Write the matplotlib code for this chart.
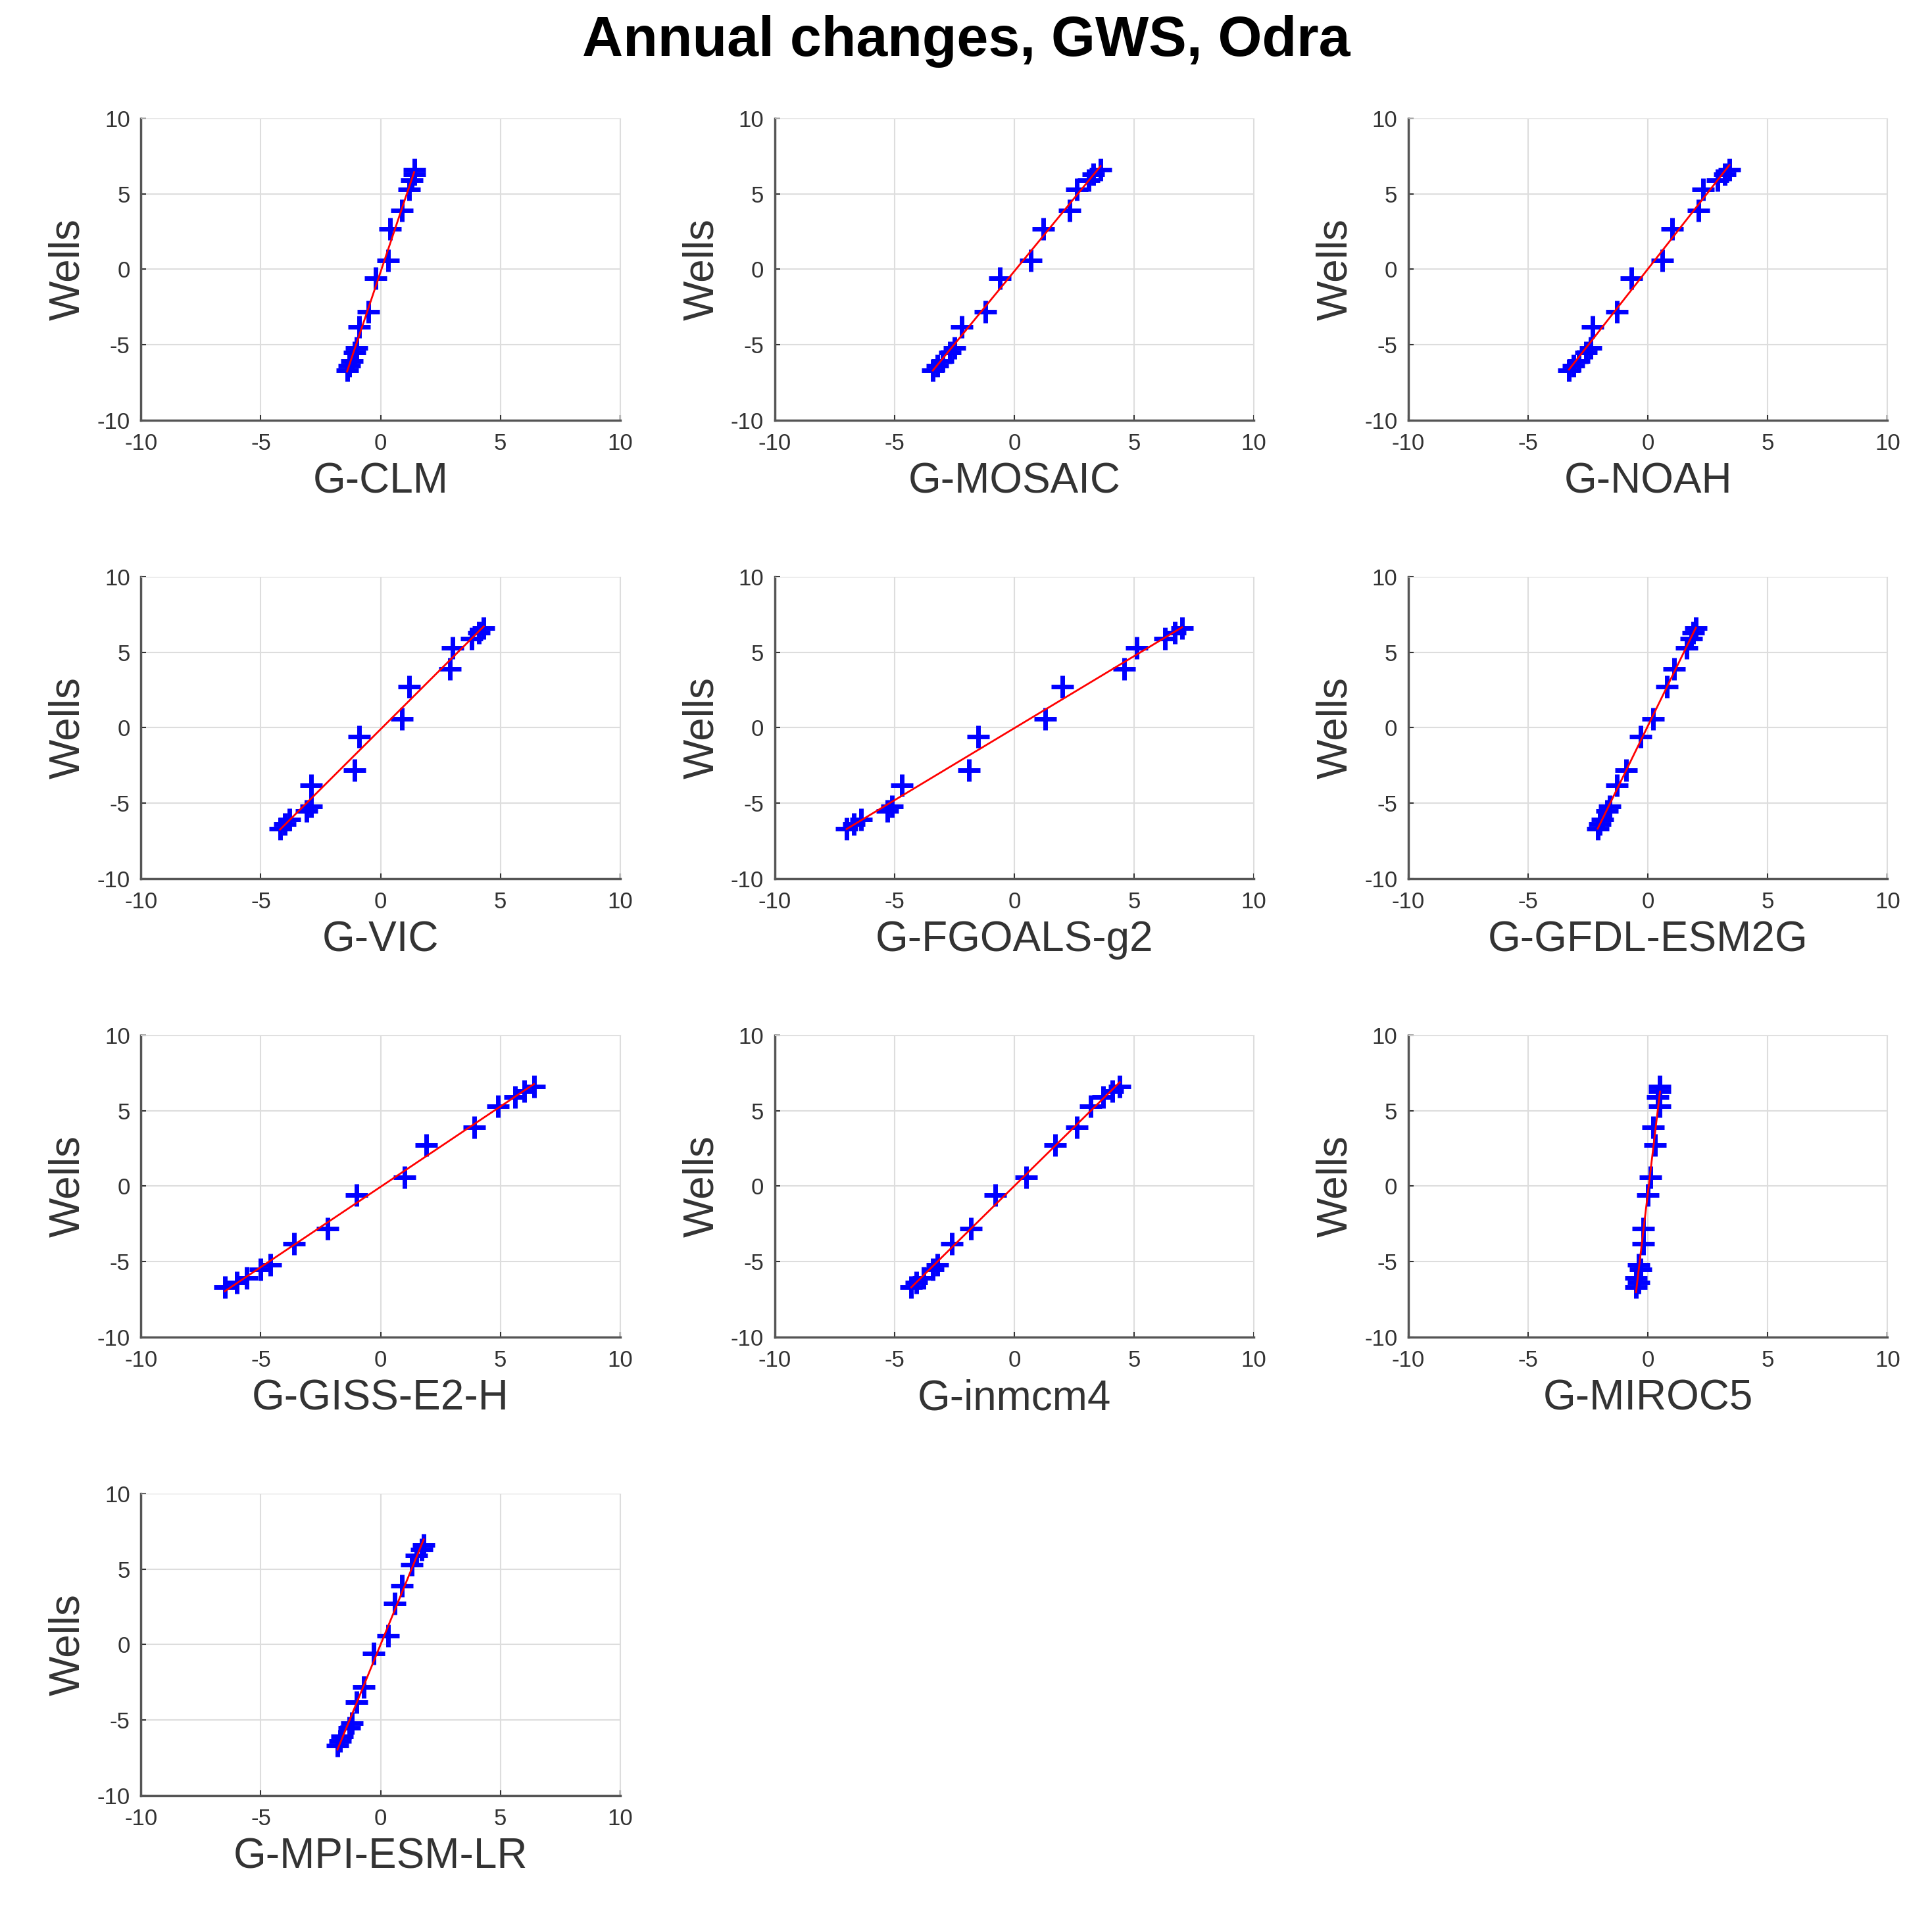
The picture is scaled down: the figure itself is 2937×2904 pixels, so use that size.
import numpy as np
import matplotlib.pyplot as plt

plt.rcParams["font.family"] = "Liberation Sans"
plt.rcParams["axes.unicode_minus"] = False

wells = [-6.7, -6.4, -6.1, -5.5, -5.2, -3.8, -2.8, -0.6, 0.6, 2.7, 3.9, 5.3, 5.9, 6.3, 6.6]

model_names = ["G-CLM", "G-MOSAIC", "G-NOAH", "G-VIC", "G-FGOALS-g2", "G-GFDL-ESM2G",
               "G-GISS-E2-H", "G-inmcm4", "G-MIROC5", "G-MPI-ESM-LR"]

clm = [-1.4, -1.3, -1.2, -1.1, -1.0, -0.9, -0.5, -0.2, 0.3, 0.4, 0.9, 1.2, 1.3, 1.4, 1.4]
mosaic = [-3.4, -3.2, -3.0, -2.7, -2.5, -2.2, -1.2, -0.6, 0.7, 1.2, 2.3, 2.6, 3.1, 3.3, 3.6]
noah = [-3.3, -3.1, -2.9, -2.6, -2.4, -2.3, -1.3, -0.7, 0.6, 1.0, 2.1, 2.3, 2.9, 3.2, 3.4]
vic = [-4.2, -4.0, -3.8, -3.1, -2.9, -2.9, -1.1, -0.9, 0.9, 1.2, 2.9, 3.0, 3.8, 4.1, 4.3]
fgoals = [-7.0, -6.7, -6.4, -5.3, -5.1, -4.7, -1.9, -1.5, 1.3, 2.0, 4.6, 5.1, 6.3, 6.7, 7.0]
gfdl = [-2.1, -2.0, -1.9, -1.7, -1.6, -1.3, -0.9, -0.3, 0.2, 0.8, 1.1, 1.6, 1.8, 1.9, 2.0]
giss = [-6.5, -6.0, -5.6, -5.0, -4.6, -3.6, -2.2, -1.0, 1.0, 1.9, 3.9, 4.9, 5.6, 6.0, 6.4]
inmcm4 = [-4.3, -4.1, -3.8, -3.4, -3.2, -2.6, -1.8, -0.8, 0.5, 1.7, 2.6, 3.2, 3.7, 4.1, 4.4]
miroc5 = [-0.5, -0.4, -0.5, -0.3, -0.4, -0.2, -0.2, 0.0, 0.1, 0.3, 0.2, 0.5, 0.4, 0.5, 0.5]
mpi = [-1.8, -1.7, -1.6, -1.3, -1.2, -1.0, -0.7, -0.3, 0.3, 0.6, 0.9, 1.3, 1.5, 1.7, 1.8]
model_vals = [clm, mosaic, noah, vic, fgoals, gfdl, giss, inmcm4, miroc5, mpi]

ticks = [-10, -5, 0, 5, 10]

fig = plt.figure(figsize=(29.37, 29.04), dpi=100)
fig.suptitle("Annual changes, GWS, Odra", fontsize=62, fontweight="bold", y=0.992)

lefts = [0.073, 0.401, 0.729]
tops = [0.938, 0.698, 0.458, 0.218]
w, h = 0.248, 0.158

for i, (name, xv) in enumerate(zip(model_names, model_vals)):
    r, c = divmod(i, 3)
    ax = fig.add_axes([lefts[c], tops[r] - h, w, h])
    x = np.array(xv)
    y = np.array(wells)
    ax.plot(x, y, "+", color="blue", ms=24, mew=5, zorder=3)
    p = np.polyfit(x, y, 1)
    xs = np.array([x.min(), x.max()])
    ax.plot(xs, np.polyval(p, xs), color="red", lw=2, zorder=4)
    ax.set_xlim(-10, 10)
    ax.set_ylim(-10, 10)
    ax.set_xticks(ticks)
    ax.set_yticks(ticks)
    ax.grid(True, color="#dddddd", lw=1.5)
    ax.set_axisbelow(True)
    for s in ["top", "right"]:
        ax.spines[s].set_color("#dddddd")
    for s in ["left", "bottom"]:
        ax.spines[s].set_color("#555555")
        ax.spines[s].set_linewidth(2.5)
    ax.tick_params(labelsize=25, colors="#333333", direction="in", length=6, width=1.5)
    ax.tick_params(axis="x", pad=14)
    ax.tick_params(axis="y", pad=12)
    ax.set_xlabel(name, fontsize=46, color="#333333", labelpad=8)
    ax.set_ylabel("Wells", fontsize=46, color="#333333", labelpad=10)

fig.savefig("out.png", dpi=100)
